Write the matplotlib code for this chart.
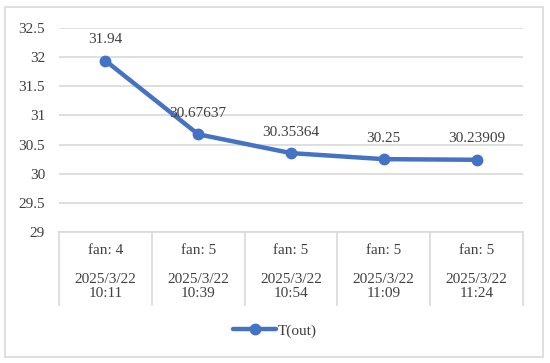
import matplotlib
matplotlib.use("Agg")
import matplotlib.pyplot as plt
from matplotlib.patches import Rectangle
import matplotlib.transforms as mtransforms

fan_labels = ["fan: 4", "fan: 5", "fan: 5", "fan: 5", "fan: 5"]
time_labels = ["2025/3/22\n10:11", "2025/3/22\n10:39", "2025/3/22\n10:54",
               "2025/3/22\n11:09", "2025/3/22\n11:24"]
t_out = [31.94, 30.67637, 30.35364, 30.25, 30.23909]
value_labels = ["31.94", "30.67637", "30.35364", "30.25", "30.23909"]
series_name = "T(out)"
yticks = [29, 29.5, 30, 30.5, 31, 31.5, 32, 32.5]
ytick_labels = ["29", "29.5", "30", "30.5", "31", "31.5", "32", "32.5"]

plt.rcParams['font.family'] = ['Liberation Serif', 'DejaVu Serif']
text_color = "#404040"
grid_color = "#D9D9D9"
line_color = "#4472C4"

W, H = 550, 363
fig = plt.figure(figsize=(W / 100, H / 100), dpi=100)

# outer frame
fig.patches.append(Rectangle((5 / W, 6 / H), 538 / W, 350 / H, transform=fig.transFigure,
                             fill=False, edgecolor=grid_color, linewidth=1.2))

ax = fig.add_axes([59 / W, (H - 232) / H, 464 / W, 204 / H])
x = list(range(len(t_out)))
ax.plot(x, t_out, color=line_color, linewidth=3.2, marker='o', markersize=7.5, label=series_name,
        solid_capstyle='round', zorder=3)
for xi, yi, lab in zip(x, t_out, value_labels):
    ax.annotate(lab, (xi, yi), xytext=(0, 10.5), textcoords='offset points', ha='center',
                va='bottom', fontsize=11, color=text_color)

ax.set_xlim(-0.5, len(t_out) - 0.5)
ax.set_ylim(29, 32.5)
ax.set_yticks(yticks)
ax.set_yticklabels(ytick_labels)
ax.tick_params(axis='y', length=0, pad=10, labelsize=11, labelcolor=text_color)
ax.tick_params(axis='x', length=0, labelbottom=False)
ax.grid(axis='y', color=grid_color, linewidth=1.2)
for s in ['left', 'right', 'top']:
    ax.spines[s].set_visible(False)
ax.spines['bottom'].set_color(grid_color)
ax.spines['bottom'].set_linewidth(1.2)
ax.set_axisbelow(True)

# category table
trans = mtransforms.blended_transform_factory(ax.transData, ax.transAxes)
depth = -73 / 204
for b in [i - 0.5 for i in range(len(t_out) + 1)]:
    ax.plot([b, b], [0, depth], transform=trans, color=grid_color, linewidth=1.2, clip_on=False)
for xi, fl, tl in zip(x, fan_labels, time_labels):
    ax.text(xi, -18.5 / 204, fl, transform=trans, ha='center', va='center', fontsize=11,
            color=text_color)
    ax.text(xi, -54.5 / 204, tl, transform=trans, ha='center', va='center', fontsize=11,
            color=text_color, linespacing=1.1)

fig.legend(loc='center', bbox_to_anchor=(0.5, 32 / H), frameon=False, fontsize=11,
           labelcolor=text_color, handlelength=2.8, handletextpad=0.1)

fig.savefig("out.png", dpi=100)
